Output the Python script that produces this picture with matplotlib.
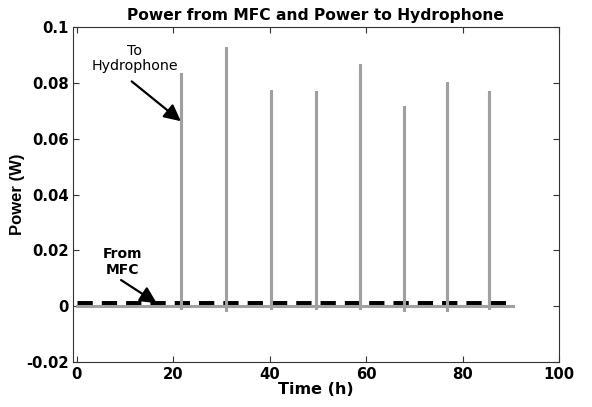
import matplotlib
matplotlib.use("Agg")
import matplotlib.pyplot as plt

plt.rcParams['font.family'] = ['DejaVu Sans']

# Power to hydrophone: baseline with transmission spikes
hyd_spike_time = [21.6, 30.9, 40.2, 49.6, 58.8, 67.8, 76.8, 85.5]
hyd_spike_peak = [0.0836, 0.0931, 0.0774, 0.0772, 0.0867, 0.0717, 0.0802, 0.0773]
hyd_spike_dip = [-0.0010, -0.0017, -0.0012, -0.0012, -0.0012, -0.0017, -0.0017, -0.0012]
hyd_start, hyd_end = 0.0, 90.5
hyd_base = 0.0

# Power from MFC (nearly constant)
mfc_time = [0.0, 89.0]
mfc_power = [0.0007, 0.0007]

xticks = [0, 20, 40, 60, 80, 100]
yticks = [-0.02, 0, 0.02, 0.04, 0.06, 0.08, 0.1]
yticklabels = ['-0.02', '0', '0.02', '0.04', '0.06', '0.08', '0.1']

# build hydrophone trace
t = [hyd_start]
p = [hyd_base]
for ts, pk, dp in zip(hyd_spike_time, hyd_spike_peak, hyd_spike_dip):
    t += [ts, ts, ts, ts]
    p += [hyd_base, pk, dp, hyd_base]
t.append(hyd_end)
p.append(hyd_base)

fig = plt.figure(figsize=(5.92, 4.07), dpi=100)
ax = fig.add_axes([72.7/592, 1-361.7/407, (559-72.7)/592, (361.7-27.3)/407])

ax.plot(mfc_time, mfc_power, color='black', lw=5, linestyle=(0, (2.2, 1.3)),
        dash_capstyle='butt', zorder=2)
ax.plot(t, p, color='#a0a0a0', lw=2.2, zorder=3, solid_joinstyle='miter')

ax.set_xlim(-0.83, 100)
ax.set_ylim(-0.02, 0.1)
ax.set_xticks(xticks)
ax.set_xticklabels([str(v) for v in xticks])
ax.set_yticks(yticks)
ax.set_yticklabels(yticklabels)

ax.tick_params(direction='in', length=4, width=0.8, top=True, right=True,
               labelsize=10.7, color='#333333', pad=3)
ax.tick_params(axis='x', pad=4)
for lab in ax.get_xticklabels() + ax.get_yticklabels():
    lab.set_fontweight('bold')
for s in ax.spines.values():
    s.set_color('#333333')
    s.set_linewidth(0.8)

ax.set_title('Power from MFC and Power to Hydrophone', fontsize=11.2,
             fontweight='bold', pad=5)
ax.set_xlabel('Time (h)', fontsize=11.5, fontweight='bold', labelpad=0)
ax.set_ylabel('Power (W)', fontsize=12, fontweight='bold', labelpad=1,
              family=['Liberation Sans', 'DejaVu Sans'])

arrow = dict(arrowstyle='-|>', color='black', lw=1.6, mutation_scale=25,
             shrinkA=0, shrinkB=0)
ax.annotate('', xy=(21.6, 0.0663), xytext=(11.4, 0.0806), arrowprops=arrow)
ax.text(12.0, 0.0888, 'To\nHydrophone', ha='center', va='center',
        fontsize=10.3, linespacing=1.15)
ax.annotate('', xy=(16.6, 0.0010), xytext=(9.2, 0.0093), arrowprops=arrow)
ax.text(9.4, 0.0157, 'From\nMFC', ha='center', va='center',
        fontsize=10, fontweight='bold', linespacing=1.15)

fig.savefig('out.png', dpi=100)
